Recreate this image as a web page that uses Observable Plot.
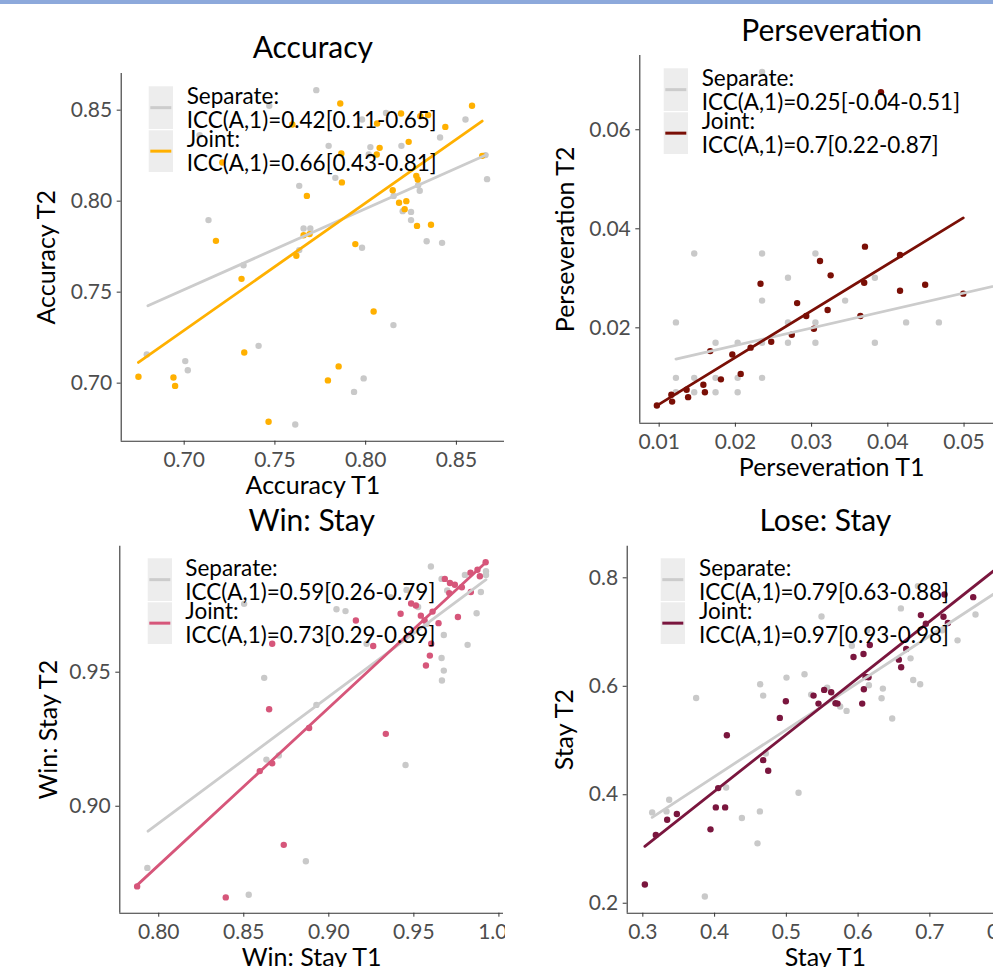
<!DOCTYPE html>
<html><head><meta charset="utf-8">
<script src="https://cdn.jsdelivr.net/npm/d3@7"></script>
<script src="https://cdn.jsdelivr.net/npm/@observablehq/plot@0.6"></script>
<style>
html,body{margin:0;padding:0;background:#fff;overflow:hidden;}
#root{position:relative;width:993px;height:967px;overflow:hidden;background:#fff;}
#bar{position:absolute;left:0;top:0;width:993px;height:4px;background:#8DA9DB;z-index:10;}
.panel{position:absolute;}
</style></head><body>
<div id="root"><div id="bar"></div></div>
<script>
// ---------- DATA ----------
const titles = ["Accuracy", "Perseveration", "Win: Stay", "Lose: Stay"];
const xLabels = ["Accuracy T1", "Perseveration T1", "Win: Stay T1", "Stay T1"];
const yLabels = ["Accuracy T2", "Perseveration T2", "Win: Stay T2", "Stay T2"];
const sepLegend = ["ICC(A,1)=0.42[0.11-0.65]", "ICC(A,1)=0.25[-0.04-0.51]", "ICC(A,1)=0.59[0.26-0.79]", "ICC(A,1)=0.79[0.63-0.88]"];
const jointLegend = ["ICC(A,1)=0.66[0.43-0.81]", "ICC(A,1)=0.7[0.22-0.87]", "ICC(A,1)=0.73[0.29-0.89]", "ICC(A,1)=0.97[0.93-0.98]"];
const jointColors = ["#FFB000", "#7A0F06", "#D6567A", "#7A163E"];

const accXTicks = [0.70, 0.75, 0.80, 0.85];
const accYTicks = [0.70, 0.75, 0.80, 0.85];
const perXTicks = [0.01, 0.02, 0.03, 0.04, 0.05];
const perYTicks = [0.02, 0.04, 0.06];
const winXTicks = [0.80, 0.85, 0.90, 0.95, 1.00];
const winYTicks = [0.90, 0.95];
const loseXTicks = [0.3, 0.4, 0.5, 0.6, 0.7, 0.8];
const loseYTicks = [0.2, 0.4, 0.6, 0.8];

// Accuracy
const accSep = [[0.6794,0.7158],[0.7006,0.7121],[0.7020,0.7071],[0.7085,0.8363],[0.7134,0.7896],[0.7327,0.7648],[0.7410,0.7205],[0.7469,0.8524],[0.7612,0.6773],[0.7634,0.8084],[0.7634,0.7731],[0.7658,0.7850],[0.7695,0.7850],[0.7728,0.8610],[0.7796,0.8304],[0.7833,0.8128],[0.7936,0.6952],[0.7980,0.7744],[0.7989,0.7026],[0.7980,0.8449],[0.8026,0.8297],[0.8017,0.8256],[0.8112,0.8485],[0.8153,0.7319],[0.8154,0.8029],[0.8197,0.8304],[0.8204,0.7945],[0.8250,0.7941],[0.8250,0.7896],[0.8289,0.8088],[0.8298,0.8057],[0.8336,0.7780],[0.8410,0.8350],[0.8421,0.7771],[0.8550,0.8449],[0.8660,0.8253],[0.8669,0.8121]];
const accJoint = [[0.6748,0.7035],[0.6941,0.7031],[0.6950,0.6985],[0.7175,0.7782],[0.7210,0.8212],[0.7316,0.7573],[0.7331,0.7168],[0.7465,0.6788],[0.7596,0.8421],[0.7618,0.7700],[0.7658,0.7813],[0.7691,0.7819],[0.7676,0.8029],[0.7792,0.7015],[0.7851,0.7092],[0.7860,0.8537],[0.7866,0.8262],[0.7869,0.8103],[0.7943,0.7764],[0.8044,0.7394],[0.8063,0.8427],[0.8077,0.8293],[0.8061,0.8256],[0.8149,0.8060],[0.8184,0.7991],[0.8224,0.8000],[0.8215,0.7956],[0.8195,0.8482],[0.8237,0.8326],[0.8279,0.8139],[0.8287,0.8119],[0.8283,0.7864],[0.8301,0.8467],[0.8344,0.8473],[0.8360,0.7870],[0.8439,0.8408],[0.8586,0.8524],[0.8642,0.8249]];
const accSepFit = [[0.6800,0.7425],[0.8669,0.8256]];
const accJointFit = [[0.6748,0.7114],[0.8642,0.8440]];

// Perseveration
const perSep = [[0.0122,0.0211],[0.0122,0.0099],[0.0122,0.0070],[0.0146,0.0350],[0.0146,0.0099],[0.0146,0.0070],[0.0174,0.0170],[0.0174,0.0099],[0.0174,0.0070],[0.0203,0.0170],[0.0203,0.0099],[0.0203,0.0070],[0.0235,0.0717],[0.0235,0.0350],[0.0235,0.0255],[0.0235,0.0099],[0.0235,0.0170],[0.0269,0.0301],[0.0269,0.0211],[0.0269,0.0170],[0.0305,0.0350],[0.0305,0.0211],[0.0305,0.0170],[0.0344,0.0255],[0.0383,0.0301],[0.0383,0.0170],[0.0424,0.0211],[0.0467,0.0211],[0.0556,0.0255]];
const perJoint = [[0.0097,0.0043],[0.0116,0.0065],[0.0117,0.0051],[0.0136,0.0075],[0.0138,0.0060],[0.0158,0.0085],[0.0160,0.0070],[0.0167,0.0153],[0.0181,0.0096],[0.0196,0.0146],[0.0207,0.0107],[0.0220,0.0160],[0.0233,0.0289],[0.0247,0.0172],[0.0274,0.0186],[0.0281,0.0250],[0.0293,0.0224],[0.0303,0.0198],[0.0311,0.0335],[0.0321,0.0236],[0.0325,0.0306],[0.0364,0.0224],[0.0369,0.0291],[0.0370,0.0364],[0.0391,0.0676],[0.0416,0.0275],[0.0416,0.0347],[0.0449,0.0287],[0.0499,0.0269]];
const perSepFit = [[0.0122,0.0137],[0.0556,0.0290]];
const perJointFit = [[0.0097,0.0043],[0.0499,0.0422]];

// Win: Stay
const winSep = [[0.7933,0.8770],[0.8529,0.8670],[0.8620,0.9479],[0.8633,0.9174],[0.8706,0.9189],[0.8865,0.8795],[0.8927,0.9378],[0.8502,0.9755],[0.9045,0.9735],[0.9098,0.9728],[0.9222,0.9606],[0.9363,0.9780],[0.9451,0.9154],[0.9457,0.9807],[0.9600,0.9894],[0.9663,0.9848],[0.9696,0.9805],[0.9663,0.9553],[0.9676,0.9506],[0.9665,0.9469],[0.9676,0.9639],[0.9800,0.9863],[0.9816,0.9602],[0.9869,0.9720],[0.9894,0.9799],[0.9924,0.9877],[0.9924,0.9863],[0.9575,0.9680],[0.9525,0.9743]];
const winJoint = [[0.7873,0.8701],[0.8394,0.8660],[0.8594,0.9131],[0.8667,0.9160],[0.8649,0.9362],[0.8667,0.9606],[0.8735,0.8856],[0.8884,0.9292],[0.9159,0.9693],[0.9261,0.9598],[0.9335,0.9270],[0.9422,0.9718],[0.9484,0.9756],[0.9512,0.9749],[0.9541,0.9711],[0.9571,0.9525],[0.9594,0.9562],[0.9602,0.9606],[0.9563,0.9693],[0.9610,0.9726],[0.9645,0.9683],[0.9682,0.9848],[0.9712,0.9833],[0.9741,0.9826],[0.9708,0.9795],[0.9759,0.9706],[0.9782,0.9817],[0.9833,0.9871],[0.9835,0.9799],[0.9874,0.9882],[0.9888,0.9858],[0.9922,0.9910]];
const winSepFit = [[0.7937,0.8907],[0.9924,0.9845]];
const winJointFit = [[0.7865,0.8701],[0.9924,0.9910]];

// Lose: Stay
const loseSep = [[0.3130,0.3675],[0.3330,0.3693],[0.3367,0.3908],[0.3743,0.5785],[0.3864,0.2123],[0.4161,0.4135],[0.4380,0.3571],[0.4598,0.3104],[0.4631,0.3693],[0.4635,0.6037],[0.4677,0.5828],[0.4714,0.4761],[0.5002,0.6160],[0.5170,0.4037],[0.5253,0.6221],[0.5346,0.5847],[0.5490,0.7288],[0.5569,0.5976],[0.5750,0.5626],[0.5839,0.5546],[0.5913,0.6748],[0.6127,0.7031],[0.6150,0.6018],[0.6327,0.5779],[0.6345,0.5957],[0.6475,0.5405],[0.6596,0.7436],[0.6731,0.6515],[0.6768,0.6117],[0.6865,0.6037],[0.6833,0.7847],[0.7172,0.7031],[0.7386,0.6847],[0.7636,0.7325],[0.8000,0.7900]];
const loseJoint = [[0.3028,0.2344],[0.3181,0.3258],[0.3339,0.3540],[0.3474,0.3644],[0.3943,0.3362],[0.4017,0.3767],[0.4147,0.3767],[0.4050,0.4123],[0.4171,0.5098],[0.4677,0.4638],[0.4747,0.4442],[0.4909,0.5417],[0.4993,0.5724],[0.5379,0.5828],[0.5448,0.5681],[0.5527,0.5933],[0.5625,0.5890],[0.5685,0.5687],[0.5713,0.5681],[0.5936,0.6540],[0.6057,0.5681],[0.6080,0.5945],[0.6075,0.6595],[0.6103,0.6172],[0.6145,0.6166],[0.6163,0.6761],[0.6568,0.6491],[0.6600,0.6350],[0.6670,0.6687],[0.6875,0.7313],[0.6944,0.7153],[0.7190,0.7282],[0.7204,0.7693],[0.7251,0.7166],[0.7604,0.7644],[0.8054,0.8276]];
const loseSepFit = [[0.3130,0.3583],[0.8054,0.7843]];
const loseJointFit = [[0.3028,0.3049],[0.8054,0.8301]];

// ---------- LAYOUT ----------
const panels = [
  {left:0, top:0, width:505, height:500, mL:120.7, mR:1, mT:72.9, mB:59.3,
   xd:[0.6653,0.8765], yd:[0.6681,0.8702], xt:accXTicks, yt:accYTicks, fmt:".2f",
   sep:accSep, joint:accJoint, sepFit:accSepFit, jointFit:accJointFit, yOff:66,
   leg:{kx:148.7, ky:86.3, tx:186.7, ty:104}},
  {left:505, top:0, width:520, height:500, mL:134.3, mR:2, mT:55, mB:77.3,
   xd:[0.00746,0.0578], yd:[0.00074,0.0750], xt:perXTicks, yt:perYTicks, fmt:".2f",
   sep:perSep, joint:perJoint, sepFit:perSepFit, jointFit:perJointFit, yOff:66.3,
   leg:{kx:158.7, ky:68.3, tx:196.7, ty:86}},
  {left:0, top:500, width:505, height:467, mL:119.3, mR:2, mT:45.7, mB:54.3,
   xd:[0.7771,1.0027], yd:[0.8601,0.9970], xt:winXTicks, yt:winYTicks, fmt:".2f",
   sep:winSep, joint:winJoint, sepFit:winSepFit, jointFit:winJointFit, yOff:63,
   leg:{kx:147.7, ky:58.3, tx:185.3, ty:76}},
  {left:505, top:500, width:520, height:467, mL:121.7, mR:2, mT:45.7, mB:54.3,
   xd:[0.2782,0.8305], yd:[0.1816,0.8583], xt:loseXTicks, yt:loseYTicks, fmt:".1f",
   sep:loseSep, joint:loseJoint, sepFit:loseSepFit, jointFit:loseJointFit, yOff:53.7,
   leg:{kx:155.7, ky:58.3, tx:194, ty:76}}
];

const FONT = "Lato, 'Open Sans', sans-serif";
const GREY_PT = "#C9C9C9", GREY_LN = "#CCCCCC", KEY_BG = "#EDEDED";
const root = document.getElementById("root");

panels.forEach((p, i) => {
  const fmt = d3.format(p.fmt);
  const col = jointColors[i];
  const svg = Plot.plot({
    width: p.width, height: p.height,
    marginLeft: p.mL, marginRight: p.mR, marginTop: p.mT, marginBottom: p.mB,
    style: {fontFamily: FONT, background: "white", color: "#4D4D4D"},
    x: {domain: p.xd, axis: null},
    y: {domain: p.yd, axis: null},
    marks: [
      Plot.dot(p.sep, {x: d => d[0], y: d => d[1], r: 3.2, fill: GREY_PT, stroke: null}),
      Plot.dot(p.joint, {x: d => d[0], y: d => d[1], r: 3.2, fill: col, stroke: null}),
      Plot.line(p.sepFit, {x: d => d[0], y: d => d[1], stroke: GREY_LN, strokeWidth: 2.8}),
      Plot.line(p.jointFit, {x: d => d[0], y: d => d[1], stroke: col, strokeWidth: 2.8}),
      Plot.ruleX([p.xd[0]], {stroke: "#333", strokeWidth: 1.1}),
      Plot.ruleY([p.yd[0]], {stroke: "#333", strokeWidth: 1.1}),
      Plot.axisX(p.xt, {tickSize: 4, tickPadding: 7, fontSize: 21, tickFormat: fmt, label: null, stroke: "#333", fill: "#4D4D4D"}),
      Plot.axisY(p.yt, {tickSize: 4, tickPadding: 5, fontSize: 21, tickFormat: fmt, label: null, stroke: "#333", fill: "#4D4D4D"}),
      Plot.text([titles[i]], {text: d => d, frameAnchor: "top", dy: -15, textAnchor: "middle", lineAnchor: "bottom", fontSize: 30, fill: "black"}),
      Plot.text([xLabels[i]], {text: d => d, frameAnchor: "bottom", dy: 52.5, textAnchor: "middle", lineAnchor: "bottom", fontSize: 25, fill: "black"}),
      Plot.text([yLabels[i]], {text: d => d, frameAnchor: "left", dx: -p.yOff, rotate: -90, textAnchor: "middle", lineAnchor: "bottom", fontSize: 25, fill: "black"})
    ]
  });
  // legend inside the panel
  const g = d3.select(svg).append("g")
    .attr("font-family", FONT).attr("font-size", 22.5).attr("fill", "black")
    .attr("text-anchor", "start");
  const L = p.leg;
  const keys = [{y: L.ky, h: 42.7, c: GREY_LN}, {y: L.ky + 44, h: 41.7, c: col}];
  keys.forEach(k => {
    g.append("rect").attr("x", L.kx).attr("y", k.y).attr("width", 24.3).attr("height", k.h).attr("fill", KEY_BG);
    g.append("line").attr("x1", L.kx + 1.6).attr("x2", L.kx + 22.6)
      .attr("y1", k.y + k.h / 2).attr("y2", k.y + k.h / 2)
      .attr("stroke", k.c).attr("stroke-width", 3);
  });
  const lines = ["Separate:", sepLegend[i], "Joint:", jointLegend[i]];
  const offs = [0, 24, 43.3, 67.3];
  lines.forEach((t, j) => {
    g.append("text").attr("x", L.tx).attr("y", L.ty + offs[j]).attr("text-anchor", "start").text(t);
  });
  const wrap = document.createElement("div");
  wrap.className = "panel";
  wrap.style.left = p.left + "px";
  wrap.style.top = p.top + "px";
  wrap.style.width = p.width + "px";
  wrap.style.height = p.height + "px";
  wrap.style.overflow = "hidden";
  wrap.appendChild(svg);
  root.appendChild(wrap);
});
</script>
</body></html>
